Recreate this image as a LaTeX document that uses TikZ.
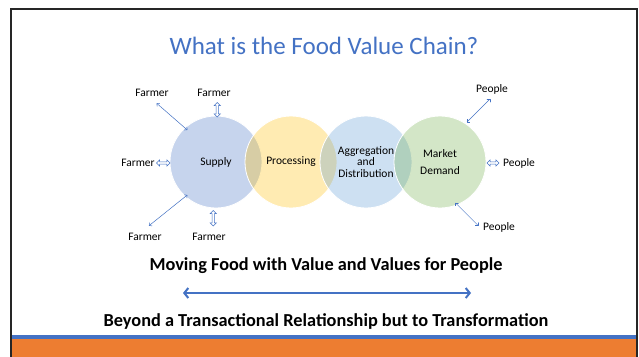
\documentclass[tikz,border=0pt]{standalone}
\usepackage{fontspec}
\setmainfont{Carlito}
\usetikzlibrary{arrows.meta,calc}
\definecolor{accblue}{HTML}{4472C4}
\definecolor{accorange}{HTML}{ED7D31}
\definecolor{cSupply}{HTML}{4472C4}
\definecolor{cProc}{HTML}{FFC000}
\definecolor{cAgg}{HTML}{5B9BD5}
\definecolor{cMkt}{HTML}{70AD47}
\begin{document}
\begin{tikzpicture}[x=1pt,y=-1pt,
  venn/.style={circle, minimum size=92pt, inner sep=0pt, draw=white, line width=0.8pt,
    fill opacity=0.3, text opacity=1, align=center, font=\fontsize{11.5}{11.7}\selectfont},
  lbl/.style={font=\fontsize{11.5}{13}\selectfont, inner sep=1pt},
  diag/.style={draw=accblue, line width=0.5pt, {To[length=2.5pt,width=4.5pt]}-{To[length=2.5pt,width=4.5pt]}},
  hollow/.style={draw=accblue, line width=0.45pt, fill=white, line join=miter,
    to path={let \p1=($(\tikztotarget)-(\tikztostart)$), \n1={veclen(\x1,\y1)}, \n2={atan2(\y1,\x1)} in
      [shift={(\tikztostart)}, rotate=\n2]
      (0,0) -- (3.2,3.2) -- (3.2,1.1) -- (\n1-3.2,1.1) -- (\n1-3.2,3.2) -- (\n1,0)
      -- (\n1-3.2,-3.2) -- (\n1-3.2,-1.1) -- (3.2,-1.1) -- (3.2,-3.2) -- cycle}},
  bigtext/.style={font=\fontsize{18.3}{20}\selectfont\bfseries},
  mainarrow/.style={draw=accblue, line width=2pt, {Straight Barb[length=4pt,width=10pt]}-{Straight Barb[length=4pt,width=10pt]}}
]
\useasboundingbox (0,0) rectangle (639,356);
\fill[white] (0,0) rectangle (639,356);
% bands
\fill[accorange] (11,339) rectangle (637,357);
\fill[accblue] (11,335) rectangle (637,339);
% frame
\draw[line width=2pt, black!85] (11,360) -- (11,9) -- (637,9) -- (637,360);

% title
\node[font=\fontsize{25}{28}\selectfont, text=accblue] (title) at (324,46) {What is the Food Value Chain?};

% venn circles
\node[venn, fill=cSupply] (supply) at (216,162) {Supply};
\node[venn, fill=cProc] (proc) at (291,162) {Processing};
\node[venn, fill=cAgg] (agg) at (366,162) {Aggregation\\and\\Distribution};
\node[venn, fill=cMkt] (mkt) at (440,162) {Market\\[5pt]Demand};

% farmer labels
\node[lbl] (f1) at (152,93) {Farmer};
\node[lbl] (f2) at (214,93) {Farmer};
\node[lbl] (f3) at (138,163) {Farmer};
\node[lbl] (f4) at (145,237) {Farmer};
\node[lbl] (f5) at (209,237) {Farmer};

% people labels
\node[lbl] (p1) at (492,89) {People};
\node[lbl] (p2) at (519,163) {People};
\node[lbl] (p3) at (499,227) {People};

% arrow end points
\coordinate (a1s) at (156.7,103.3); \coordinate (a1e) at (187.3,130);
\coordinate (a2s) at (217.3,102.5); \coordinate (a2e) at (217.3,117);
\coordinate (a3s) at (156.5,163);   \coordinate (a3e) at (170,163);
\coordinate (a4s) at (149,225.7);   \coordinate (a4e) at (187.3,195);
\coordinate (a5s) at (213.3,226);   \coordinate (a5e) at (213.3,210.5);
\coordinate (b1s) at (490,99);      \coordinate (b1e) at (466.7,122.3);
\coordinate (b2s) at (499,163);     \coordinate (b2e) at (487,163);
\coordinate (b3s) at (478.3,225.7); \coordinate (b3e) at (455.3,202.7);

\draw[diag] (a1s) -- (a1e);
\draw[hollow] (a2s) to (a2e);
\draw[hollow] (a3s) to (a3e);
\draw[diag] (a4s) -- (a4e);
\draw[hollow] (a5s) to (a5e);
\draw[diag] (b1s) -- (b1e);
\draw[hollow] (b2s) to (b2e);
\draw[diag] (b3s) -- (b3e);

% bottom texts
\node[bigtext] (moving) at (326,266) {Moving Food with Value and Values for People};
\coordinate (ml) at (183,293); \coordinate (mr) at (471,293);
\draw[mainarrow] (ml) -- (mr);
\node[bigtext] (beyond) at (326,321) {Beyond a Transactional Relationship but to Transformation};
\end{tikzpicture}
\end{document}
